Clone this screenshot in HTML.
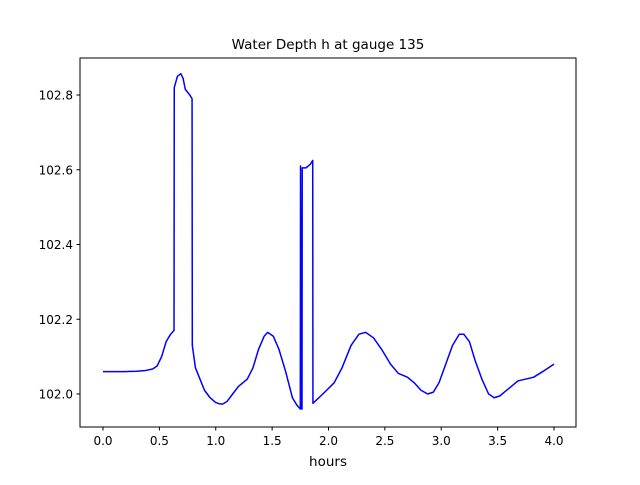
<!DOCTYPE html>
<html><head><meta charset="utf-8"><style>
body{margin:0;background:#fff;}
svg text{font-family:"DejaVu Sans","Liberation Sans",sans-serif;}
</style></head><body>
<svg id="chart" width="640" height="480" xmlns="http://www.w3.org/2000/svg">
<rect x="0" y="0" width="640" height="480" fill="#fff"/>
<text x="328" y="49" font-size="13.5" text-anchor="middle">Water Depth h at gauge 135</text>
<g id="plot"></g>
<rect x="80" y="58" width="496" height="369" fill="none" stroke="#000" stroke-width="1"/>
<text x="328" y="466" font-size="13.5" text-anchor="middle">hours</text>
</svg>
<script>
const hours=[0,0.2,0.3,0.38,0.44,0.48,0.52,0.56,0.6,0.63,0.632,0.66,0.69,0.71,0.73,0.77,0.79,0.792,0.82,0.86,0.9,0.95,1.0,1.03,1.06,1.1,1.15,1.2,1.28,1.33,1.38,1.43,1.46,1.51,1.56,1.62,1.68,1.72,1.75,1.752,1.758,1.765,1.767,1.8,1.84,1.86,1.862,1.95,2.05,2.12,2.2,2.27,2.33,2.4,2.47,2.55,2.62,2.7,2.76,2.82,2.88,2.93,2.98,3.04,3.1,3.16,3.2,3.25,3.3,3.36,3.42,3.47,3.52,3.6,3.68,3.75,3.82,3.9,3.95,4.0];
const depth=[102.06,102.06,102.061,102.063,102.067,102.075,102.1,102.14,102.16,102.17,102.82,102.85,102.857,102.845,102.815,102.8,102.79,102.13,102.07,102.04,102.01,101.99,101.977,101.974,101.973,101.98,102.0,102.02,102.04,102.07,102.12,102.155,102.165,102.155,102.12,102.06,101.99,101.97,101.96,102.61,101.96,101.96,102.605,102.605,102.615,102.625,101.975,102.0,102.03,102.07,102.13,102.16,102.165,102.15,102.12,102.08,102.055,102.045,102.03,102.01,102.0,102.005,102.03,102.08,102.13,102.16,102.16,102.14,102.09,102.04,102.0,101.99,101.995,102.015,102.035,102.04,102.045,102.06,102.07,102.08];
const xTicks=[0,0.5,1,1.5,2,2.5,3,3.5,4];
const xTickLabels=["0.0","0.5","1.0","1.5","2.0","2.5","3.0","3.5","4.0"];
const yTicks=[102.0,102.2,102.4,102.6,102.8];
const yTickLabels=["102.0","102.2","102.4","102.6","102.8"];
const NS="http://www.w3.org/2000/svg";
const X=v=>103+(v-0)*112.75;
const Y=v=>394-(v-102.0)*373.75;
const g=document.getElementById('plot');
function mk(t,a){const e=document.createElementNS(NS,t);for(const k in a)e.setAttribute(k,a[k]);g.appendChild(e);return e;}
xTicks.forEach((t,i)=>{
 const l=mk('line',{x1:X(t),x2:X(t),y1:427,y2:430.5,stroke:'#000'});
 
 
 const tx=mk('text',{x:X(t),y:445,'font-size':12,'text-anchor':'middle'});
 tx.textContent=xTickLabels[i];
 
 
});
yTicks.forEach((t,i)=>{
 const l=mk('line',{x1:76.5,x2:80,y1:Y(t),y2:Y(t),stroke:'#000'});
 
 
 const tx=mk('text',{x:73,y:Y(t)+4.5,'font-size':12,'text-anchor':'end'});
 tx.textContent=yTickLabels[i];
 
 
});
const d=hours.map((h,i)=>(i?'L':'M')+X(h).toFixed(2)+','+Y(depth[i]).toFixed(2)).join(' ');
const p=mk('path',{d:d,fill:'none',stroke:'#0000ff','stroke-width':1.5,'stroke-linejoin':'round'});


</script>
</body></html>
